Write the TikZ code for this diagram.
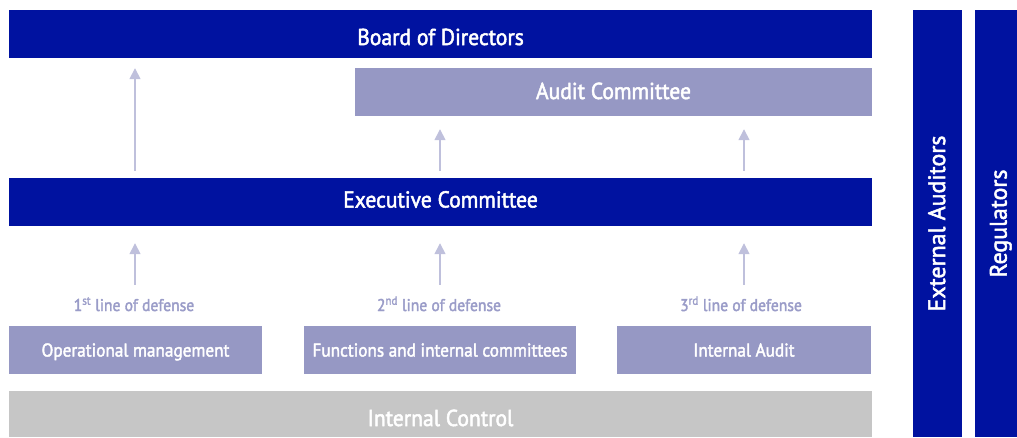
\documentclass[tikz,border=0pt]{standalone}
\usepackage{graphicx}
\usepackage{fontspec}
\setmainfont{PT Sans}[FakeBold=2.2]
\usetikzlibrary{arrows.meta}
\definecolor{dblue}{HTML}{0012A0}
\definecolor{mpurp}{HTML}{9698C4}
\definecolor{lgrey}{HTML}{C6C6C6}
\definecolor{arrowc}{HTML}{BFC0DC}
\definecolor{labc}{HTML}{9A9CC8}
\newcommand{\sqzbig}[2]{\raisebox{#1}{\scalebox{0.94}[1]{#2}}}
\newcommand{\sqzsmall}[1]{\scalebox{0.93}[1]{#1}}
\newcommand{\sqzlab}[1]{\scalebox{0.92}[1]{#1}}
\begin{document}
\begin{tikzpicture}[x=1pt,y=-1pt,
  bigfont/.style={font=\fontsize{23}{26}\selectfont, text height=16pt, text depth=0pt},
  bigbox/.style={rectangle, fill=dblue, text=white, inner sep=0pt, bigfont},
  midbox/.style={rectangle, fill=mpurp, text=white, inner sep=0pt},
  ctrlbox/.style={rectangle, fill=lgrey, text=white, inner sep=0pt, bigfont},
  smallfont/.style={font=\fontsize{18.5}{21}\selectfont, text height=13pt, text depth=0pt},
  linelab/.style={text=labc, inner sep=0pt, anchor=base, text height=10pt, text depth=3pt, font=\fontsize{17}{19}\selectfont},
  vertlab/.style={rotate=90, text=white, inner sep=0pt, text height=16.7pt, text depth=0pt, font=\fontsize{23.8}{26}\selectfont},
  colbox/.style={rectangle, fill=dblue, inner sep=0pt},
  uparrow/.style={draw=arrowc, line width=1.5pt, -{Triangle[width=11pt,length=11pt]}}
]
\useasboundingbox (0,0) rectangle (1017,437);
\node[bigbox, minimum width=863pt, minimum height=48pt] (board) at (440.5,34) {\sqzbig{-3pt}{Board of Directors}};
\node[midbox, minimum width=517pt, minimum height=48pt, bigfont] (audit) at (613.5,92) {\sqzbig{1pt}{Audit Committee}};
\node[bigbox, minimum width=863pt, minimum height=48pt] (exec) at (440.5,202) {\sqzbig{2.5pt}{Executive Committee}};
\node[midbox, minimum width=253pt, minimum height=48pt, smallfont] (op) at (135.5,350) {\sqzsmall{Operational management}};
\node[midbox, minimum width=272pt, minimum height=48pt, smallfont] (func) at (440,350) {\sqzsmall{Functions and internal committees}};
\node[midbox, minimum width=254pt, minimum height=48pt, smallfont] (ia) at (744,350) {\sqzsmall{Internal Audit}};
\node[ctrlbox, minimum width=863pt, minimum height=46pt] (ic) at (440.5,414) {\sqzbig{-4pt}{Internal Control}};
\node[colbox, minimum width=49pt, minimum height=427pt] (ext) at (937.5,223.5) {};
\node[vertlab] (extl) at (ext.center) {\raisebox{0.8pt}{External Auditors}};
\node[colbox, minimum width=42pt, minimum height=427pt] (reg) at (996,223.5) {};
\node[vertlab] (regl) at (reg.center) {\raisebox{-2.3pt}{Regulators}};
\node[linelab] (l1) at (134,311) {\sqzlab{1\textsuperscript{st} line of defense}};
\node[linelab] (l2) at (439,311) {\sqzlab{2\textsuperscript{nd} line of defense}};
\node[linelab] (l3) at (741,311) {\sqzlab{3\textsuperscript{rd} line of defense}};
\coordinate (a1) at (135,0);
\coordinate (a2) at (440,0);
\coordinate (a3) at (744,0);
\draw[uparrow, shorten <=7pt, shorten >=10pt] (exec.north -| a1) -- (board.south -| a1);
\draw[uparrow, shorten <=7pt, shorten >=13pt] (exec.north -| a2) -- (audit.south -| a2);
\draw[uparrow, shorten <=7pt, shorten >=13pt] (exec.north -| a3) -- (audit.south -| a3);
\draw[uparrow, shorten <=16pt, shorten >=17pt] (l1.north -| a1) -- (exec.south -| a1);
\draw[uparrow, shorten <=16pt, shorten >=17pt] (l2.north -| a2) -- (exec.south -| a2);
\draw[uparrow, shorten <=16pt, shorten >=17pt] (l3.north -| a3) -- (exec.south -| a3);
\end{tikzpicture}
\end{document}
